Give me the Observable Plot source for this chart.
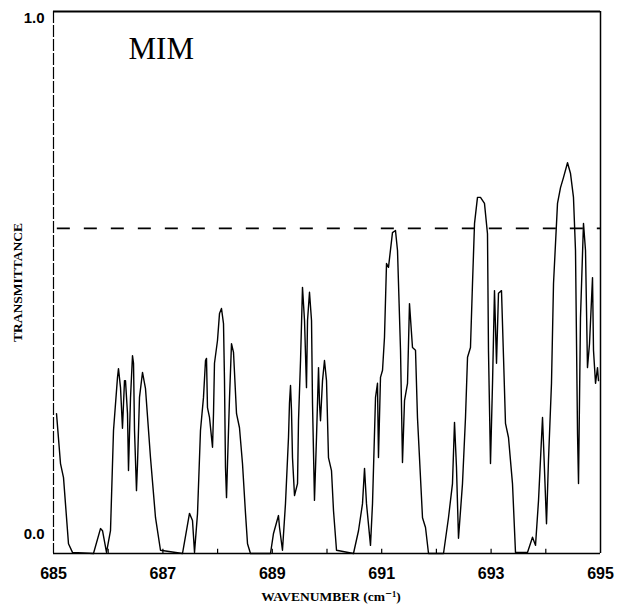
<!DOCTYPE html>
<html>
<head>
<meta charset="utf-8">
<script src="https://cdn.jsdelivr.net/npm/d3@7"></script>
<script src="https://cdn.jsdelivr.net/npm/@observablehq/plot@0.6"></script>
<style>
  html, body { margin: 0; padding: 0; background: #fff; }
  #chart svg { display: block; }
</style>
</head>
<body>
<div id="chart"></div>
<script>
// Wavenumber (cm^-1) and transmittance
const wavenumber = [
  685.055, 685.128, 685.183, 685.274, 685.347, 685.731, 685.859, 685.896, 685.969,
  686.042, 686.097, 686.170, 686.188, 686.225, 686.261, 686.298, 686.316, 686.353,
  686.371, 686.408, 686.444, 686.463, 686.481, 686.517, 686.536, 686.572, 686.627,
  686.682, 686.773, 686.865, 686.956,
  687.358, 687.377, 687.486, 687.541, 687.578, 687.633, 687.687, 687.742, 687.779,
  687.797, 687.815, 687.852, 687.907, 687.925, 687.943, 687.998, 688.035, 688.071,
  688.108, 688.126, 688.144, 688.163, 688.181, 688.218, 688.254, 688.291, 688.346,
  688.400, 688.455, 688.510, 688.547, 688.601,
  688.967, 689.022, 689.113, 689.132, 689.186, 689.241, 689.296, 689.314, 689.333,
  689.351, 689.369, 689.406, 689.461, 689.479, 689.516, 689.552, 689.589, 689.625,
  689.644, 689.680, 689.717, 689.735, 689.771, 689.808, 689.845, 689.863, 689.881,
  689.918, 689.954, 689.991, 690.027, 690.082, 690.119, 690.174, 690.484,
  690.576, 690.649, 690.686, 690.722, 690.795, 690.832, 690.887, 690.923, 690.941,
  690.978, 691.015, 691.051, 691.088, 691.124, 691.197, 691.252, 691.289, 691.344,
  691.380, 691.417, 691.472, 691.508, 691.563, 691.618, 691.654, 691.746, 691.801,
  691.856, 692.130,
  692.221, 692.294, 692.331, 692.367, 692.404, 692.477, 692.532, 692.569, 692.623,
  692.660, 692.697, 692.751, 692.806, 692.879, 692.934, 692.952, 692.989, 693.026,
  693.062, 693.099, 693.135, 693.190, 693.227, 693.263, 693.318, 693.391, 693.446,
  693.665,
  693.757, 693.812, 693.867, 693.940, 693.958, 694.013, 694.049, 694.104, 694.141,
  694.214, 694.269, 694.324, 694.397, 694.452, 694.506, 694.543, 694.580, 694.598,
  694.634, 694.689, 694.726, 694.762, 694.799, 694.854, 694.872, 694.909, 694.945,
  694.963
];
const transmittance = [
  0.258, 0.166, 0.140, 0.018, 0.002, 0.000, 0.046, 0.042, 0.002,
  0.042, 0.227, 0.325, 0.341, 0.306, 0.231, 0.319, 0.319, 0.258,
  0.153, 0.288, 0.365, 0.351, 0.227, 0.116, 0.166, 0.288, 0.334,
  0.304, 0.177, 0.066, 0.006,
  0.000, 0.011, 0.074, 0.061, 0.002, 0.074, 0.227, 0.288, 0.356,
  0.360, 0.269, 0.251, 0.196, 0.258, 0.351, 0.393, 0.443, 0.452,
  0.424, 0.319, 0.159, 0.103, 0.166, 0.288, 0.387, 0.371, 0.258,
  0.232, 0.166, 0.074, 0.018, 0.000,
  0.000, 0.037, 0.070, 0.048, 0.006, 0.092, 0.214, 0.277, 0.310,
  0.264, 0.177, 0.107, 0.129, 0.245, 0.356, 0.491, 0.430, 0.306,
  0.430, 0.482, 0.430, 0.277, 0.098, 0.214, 0.343, 0.277, 0.245,
  0.319, 0.356, 0.319, 0.177, 0.153, 0.079, 0.006, 0.000,
  0.042, 0.092, 0.157, 0.092, 0.015, 0.092, 0.288, 0.314, 0.177,
  0.325, 0.338, 0.399, 0.535, 0.528, 0.592, 0.596, 0.559, 0.375,
  0.168, 0.282, 0.314, 0.461, 0.380, 0.375, 0.251, 0.066, 0.048,
  0.000, 0.000,
  0.066, 0.129, 0.242, 0.159, 0.028, 0.129, 0.251, 0.362, 0.380,
  0.498, 0.609, 0.657, 0.657, 0.646, 0.590, 0.375, 0.166, 0.314,
  0.485, 0.351, 0.480, 0.485, 0.362, 0.240, 0.214, 0.129, 0.002,
  0.002,
  0.030, 0.015, 0.098, 0.251, 0.203, 0.055, 0.172, 0.314, 0.498,
  0.646, 0.675, 0.694, 0.721, 0.701, 0.657, 0.559, 0.221, 0.129,
  0.435, 0.609, 0.559, 0.343, 0.387, 0.509, 0.375, 0.314, 0.343,
  0.319
];
const xTickLabels = [685, 687, 689, 691, 693, 695];
const xMinorTicks = [686, 687, 688, 689, 690, 691, 692, 693, 694];
const referenceLevel = [0.6];
const panelLabel = ["MIM"];
const xTitle = "WAVENUMBER (cm\u207B\u00B9)";
const yTitle = "TRANSMITTANCE";

const spectrum = wavenumber.map((w, i) => ({w, t: transmittance[i]}));

const serif = "'Liberation Serif', 'DejaVu Serif', serif";
const sans = "'Liberation Sans', Arial, sans-serif";

const chart = Plot.plot({
  width: 626,
  height: 611,
  marginLeft: 53,
  marginRight: 26,
  marginTop: 11,
  marginBottom: 58,
  style: {background: "#fff", color: "#000"},
  x: {domain: [685, 695]},
  y: {domain: [0, 1]},
  marks: [
    // frame
    Plot.ruleY([1], {stroke: "#000", strokeWidth: 2}),
    Plot.ruleY([0], {stroke: "#000", strokeWidth: 1.6}),
    Plot.ruleX([695], {stroke: "#000", strokeWidth: 1.5}),
    Plot.ruleX([685], {stroke: "#000", strokeWidth: 1.2, strokeDasharray: "12,2"}),
    // minor inward ticks on bottom axis
    Plot.ruleX(xMinorTicks, {y1: 0, y2: 0.008, stroke: "#000", strokeWidth: 1.2}),
    // dashed reference level
    Plot.ruleY(referenceLevel, {x1: 685.07, x2: 695, stroke: "#000", strokeWidth: 1.8, strokeDasharray: "13,14"}),
    // spectrum
    Plot.line(spectrum, {x: "w", y: "t", stroke: "#000", strokeWidth: 1.4, strokeLinejoin: "round"}),
    // axes
    Plot.axisX({ticks: xTickLabels, tickSize: 0, tickPadding: 14, label: null,
      fontSize: 16, fontWeight: "bold", fontFamily: sans}),
    Plot.axisY({ticks: [0], tickFormat: d3.format(".1f"), tickSize: 0, tickPadding: 9, dy: -19,
      label: null, fontSize: 15, fontWeight: "bold", fontFamily: sans}),
    Plot.axisY({ticks: [1], tickFormat: d3.format(".1f"), tickSize: 0, tickPadding: 9, dy: 7,
      label: null, fontSize: 15, fontWeight: "bold", fontFamily: sans}),
    Plot.axisY({ticks: [], label: yTitle, labelAnchor: "center", labelOffset: 41, labelArrow: false,
      fontSize: 13.5, fontWeight: "bold", fontFamily: serif}),
    // titles
    Plot.text([xTitle], {frameAnchor: "bottom", dx: 4, dy: 47, text: d => d,
      fontSize: 13.5, fontWeight: "bold", fontFamily: serif}),
    Plot.text(panelLabel, {frameAnchor: "top-left", dx: 75, dy: 38, text: d => d,
      textAnchor: "start", lineAnchor: "middle", fontSize: 31, fontFamily: serif})
  ]
});
document.getElementById("chart").appendChild(chart);
</script>
</body>
</html>
